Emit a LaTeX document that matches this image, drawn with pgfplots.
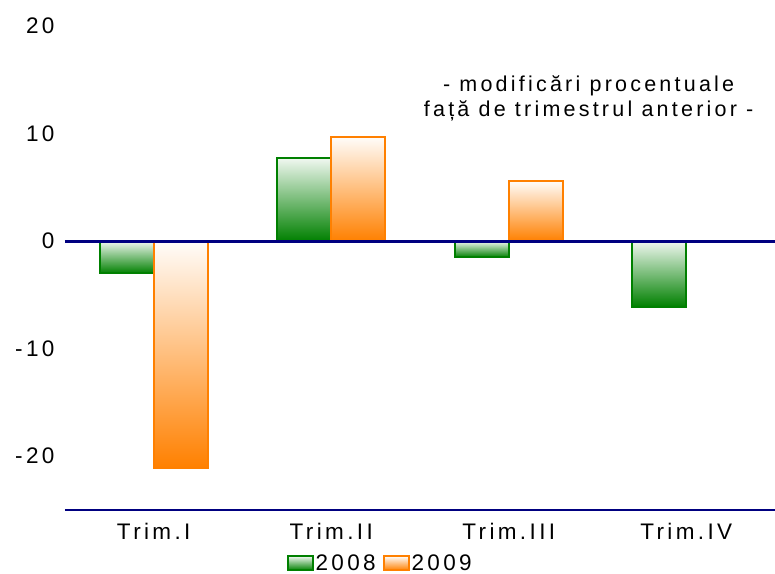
\documentclass[border=0pt]{standalone}
\usepackage{fontspec}
\setmainfont{Liberation Sans}[LetterSpace=15]
\usepackage{pgfplots}
\pgfplotsset{compat=1.18}
\definecolor{cgreen}{RGB}{0,128,0}
\definecolor{corange}{RGB}{255,128,0}
\definecolor{cnavy}{RGB}{0,0,128}
\pgfplotsset{
 gbar/.style={ybar, bar width=0.305, bar shift=-0.1525, draw=cgreen, line width=1.8pt, top color=cgreen!6!white, bottom color=cgreen},
 obar/.style={ybar, bar width=0.305, bar shift=0.1525, draw=corange, line width=1.8pt, top color=corange!2!white, bottom color=corange},
}
\begin{document}
\begin{tikzpicture}
\begin{axis}[
 scale only axis, width=710pt, height=484pt,
 xmin=-0.5, xmax=3.5, ymin=-25, ymax=20,
 axis line style={draw=none},
 major tick length=0pt,
 xtick={0,1,2,3}, xticklabels={Trim.I,Trim.II,Trim.III,Trim.IV},
 ytick={-20,-10,0,10,20}, yticklabels={-20,-10,0,10,20},
 tick label style={font=\fontsize{22.5}{26}\selectfont},
 xticklabel style={yshift=-10pt},
 yticklabel style={xshift=-7pt},
 legend style={at={(0.444,-0.11)}, anchor=center, draw=none, fill=none, legend columns=2, font=\fontsize{22.5}{26}\selectfont, /tikz/every even column/.append style={column sep=5pt}},
 legend image code/.code={\draw[#1] (0pt,-7pt) rectangle (25pt,7pt);},
 clip=false,
]
\addplot[gbar] coordinates {(0,-3.0)};
\addlegendentry{2008}
\addplot[obar] coordinates {(0,-21.1)};
\addlegendentry{2009}
\addplot[gbar, forget plot] coordinates {(1,7.7)};
\addplot[gbar, forget plot] coordinates {(2,-1.5)};
\addplot[gbar, forget plot] coordinates {(3,-6.1)};
\addplot[obar, forget plot] coordinates {(1,9.7)};
\addplot[obar, forget plot] coordinates {(2,5.6)};
\draw[cnavy, line width=2.8pt] (axis cs:-0.5,0) -- (axis cs:3.5,0);
\draw[cnavy, line width=2.5pt] (axis cs:-0.5,-25) -- (axis cs:3.5,-25);
\node[align=center, font=\fontsize{21.5}{25}\selectfont] at (axis cs:2.45,13.3) {- modificări procentuale\\ față de trimestrul anterior -};
\end{axis}
\pgfresetboundingbox
\path[use as bounding box] ([shift={(-65pt,-64pt)}]current axis.south west) rectangle ([shift={(0pt,26pt)}]current axis.north east);
\end{tikzpicture}
\end{document}
